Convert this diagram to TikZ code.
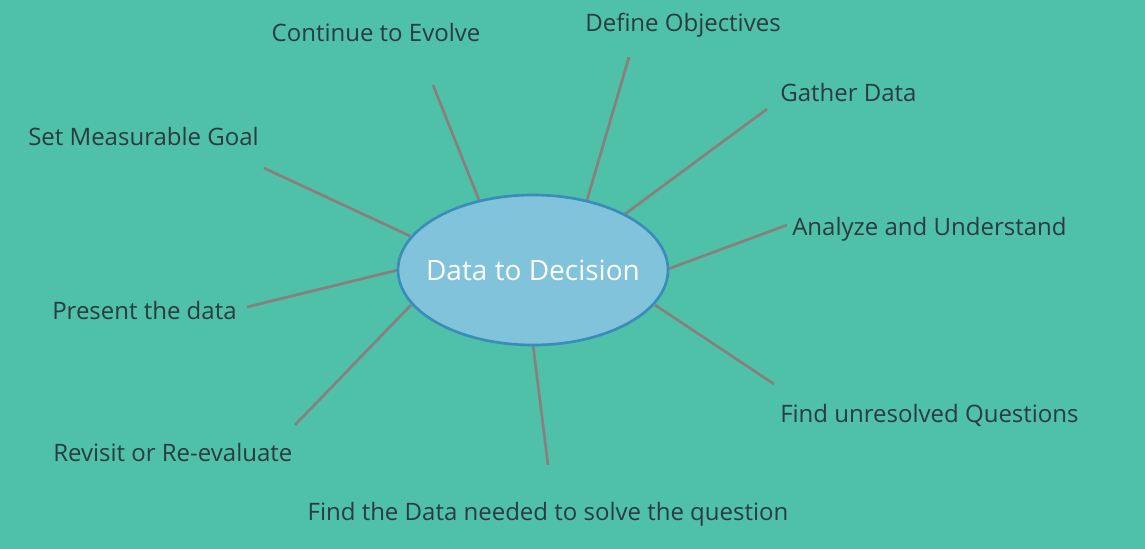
\documentclass[tikz,border=0pt]{standalone}
\usepackage{fontspec}
\setmainfont{Open Sans}
\usetikzlibrary{shapes.geometric}
\definecolor{bg}{HTML}{4FC1A9}
\definecolor{ellfill}{HTML}{80C3DB}
\definecolor{elldraw}{HTML}{3B8DB9}
\definecolor{conn}{HTML}{8A7E80}
\definecolor{txt}{HTML}{2B3B3F}
\tikzset{
  lbl/.style={text=txt, font=\fontsize{18pt}{20pt}\selectfont, inner sep=0pt},
  conline/.style={draw=conn, line width=2pt},
  hub/.style={ellipse, draw=elldraw, fill=ellfill, line width=2pt, minimum width=270*0.75pt, minimum height=150*0.75pt, inner sep=0pt},
  hubtext/.style={text=white, font=\fontsize{21pt}{24pt}\selectfont, inner sep=0pt},
}
\begin{document}
\begin{tikzpicture}[x=0.75pt,y=-0.75pt]
\fill[bg] (0,0) rectangle (1145,549);
\useasboundingbox (0,0) rectangle (1145,549);
% labels
\node[lbl] (t1) at (376,33) {Continue to Evolve};
\node[lbl] (t2) at (683,25) {Define Objectives};
\node[lbl, anchor=west] (t3) at (780,93) {Gather Data};
\node[lbl, anchor=west] (t4) at (792,229) {Analyze and Understand};
\node[lbl, anchor=west] (t5) at (780,415) {Find unresolved Questions};
\node[lbl] (t6) at (548,514) {Find the Data needed to solve the question};
\node[lbl, anchor=west] (t7) at (53,452) {Revisit or Re-evaluate};
\node[lbl, anchor=west] (t8) at (52,310) {Present the data};
\node[lbl, anchor=west] (t9) at (28,137) {Set Measurable Goal};
% connector ends
\coordinate (a1) at (479,200); \coordinate (b1) at (433,85);
\coordinate (a2) at (587,200); \coordinate (b2) at (629,57);
\coordinate (a3) at (625,214); \coordinate (b3) at (767,109);
\coordinate (a4) at (668,269); \coordinate (b4) at (787,225);
\coordinate (a5) at (655,305); \coordinate (b5) at (774,384);
\coordinate (a6) at (533,345); \coordinate (b6) at (548,465);
\coordinate (a7) at (411,305); \coordinate (b7) at (295,425);
\coordinate (a8) at (398,270); \coordinate (b8) at (247,307);
\coordinate (a9) at (410,236); \coordinate (b9) at (264,168);
\foreach \i in {1,...,9} { \draw[conline] (a\i) -- (b\i); }
\node[hub, label={[hubtext]center:Data to Decision}] (c) at (533,270) {};
\end{tikzpicture}
\end{document}
